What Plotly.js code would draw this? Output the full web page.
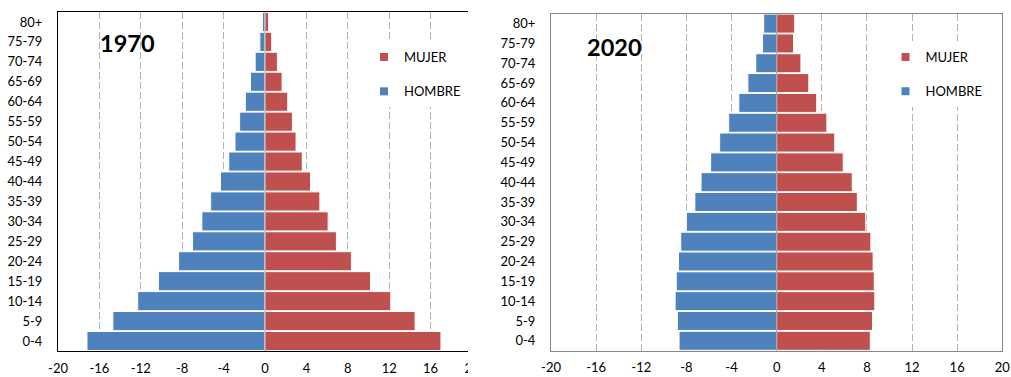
<!DOCTYPE html>
<html>
<head>
<meta charset="utf-8">
<script src="https://cdn.plot.ly/plotly-3.0.1.min.js"></script>
<style>
  html, body { margin: 0; padding: 0; background: #fff; }
  #chart { width: 1011px; height: 377px; }
</style>
</head>
<body>
<div id="chart"></div>
<script>
// Age groups, youngest at the bottom of each pyramid
const ageGroups = ['0-4', '5-9', '10-14', '15-19', '20-24', '25-29', '30-34', '35-39',
  '40-44', '45-49', '50-54', '55-59', '60-64', '65-69', '70-74', '75-79', '80+'];

// Share of total population (%) by age group and sex
const hombre1970 = [17.2, 14.7, 12.3, 10.3, 8.35, 7.0, 6.1, 5.25, 4.3, 3.5, 2.9, 2.45, 1.9, 1.4, 0.95, 0.5, 0.25];
const mujer1970  = [17.0, 14.5, 12.15, 10.2, 8.35, 6.9, 6.1, 5.3, 4.4, 3.6, 3.0, 2.65, 2.2, 1.65, 1.2, 0.65, 0.35];
const hombre2020 = [8.65, 8.8, 9.0, 8.9, 8.7, 8.5, 8.0, 7.25, 6.7, 5.85, 5.05, 4.25, 3.35, 2.55, 1.85, 1.25, 1.15];
const mujer2020  = [8.3, 8.5, 8.7, 8.65, 8.55, 8.35, 7.9, 7.15, 6.7, 5.9, 5.15, 4.45, 3.55, 2.85, 2.15, 1.5, 1.6];

// Horizontal axis ticks (men plotted to the left of zero)
const xTickVals = [-20, -16, -12, -8, -4, 0, 4, 8, 12, 16, 20];
const xTickText = ['-20', '-16', '-12', '-8', '-4', '0', '4', '8', '12', '16', '20'];

const seriesNames = { male: 'HOMBRE', female: 'MUJER' };
const colors = { male: '#4f81bd', female: '#c0504d' };
const panelTitles = ['1970', '2020'];

const W = 1011, H = 377;
const px = v => v / W;
const py = v => 1 - v / H;

function barTrace(values, sex, xa, ya, negate) {
  return {
    type: 'bar',
    orientation: 'h',
    y: ageGroups,
    x: values.map(v => negate ? -v : v),
    name: seriesNames[sex],
    xaxis: xa, yaxis: ya,
    showlegend: false,
    marker: { color: colors[sex], line: { color: '#ffffff', width: 1 } },
    hoverinfo: 'skip'
  };
}

function legendEntry(sex, xa, ya, legendId) {
  return {
    type: 'scatter', mode: 'markers',
    x: [null], y: [null],
    xaxis: xa, yaxis: ya,
    name: seriesNames[sex],
    legend: legendId,
    legendgroup: legendId + sex,
    marker: { symbol: 'square', size: 8, color: colors[sex] },
    hoverinfo: 'skip'
  };
}

const data = [
  barTrace(hombre1970, 'male', 'x', 'y', true),
  barTrace(mujer1970, 'female', 'x', 'y', false),
  barTrace(hombre2020, 'male', 'x2', 'y2', true),
  barTrace(mujer2020, 'female', 'x2', 'y2', false),
  legendEntry('female', 'x', 'y', 'legend'),
  legendEntry('male', 'x', 'y', 'legend'),
  legendEntry('female', 'x2', 'y2', 'legend2'),
  legendEntry('male', 'x2', 'y2', 'legend2')
];

const tickFont = { family: 'Lato, "Open Sans", sans-serif', size: 13, color: '#000000' };
const gridStyle = { showgrid: true, gridcolor: '#b3b3b3', gridwidth: 1, griddash: '7px,3px' };

function xAxis(domain, anchor, lineColor) {
  return Object.assign({
    domain: domain, anchor: anchor, range: [-20, 20],
    tickmode: 'array', tickvals: xTickVals, ticktext: xTickText,
    ticks: '', ticklabelstandoff: 5, tickfont: tickFont,
    zeroline: false, showline: true, mirror: true, linecolor: lineColor, linewidth: 1,
    fixedrange: true
  }, gridStyle);
}

function yAxis(domain, anchor, lineColor) {
  return {
    domain: domain, anchor: anchor, type: 'category',
    categoryorder: 'array', categoryarray: ageGroups,
    ticks: '', ticklabelstandoff: 12, tickfont: tickFont,
    showgrid: false, zeroline: false,
    showline: true, mirror: true, linecolor: lineColor, linewidth: 1,
    fixedrange: true
  };
}

function legendBox(xLeft) {
  return {
    x: px(xLeft), y: py(42), xanchor: 'left', yanchor: 'top',
    bgcolor: '#ffffff', borderwidth: 0,
    font: { family: 'Lato, "Open Sans", sans-serif', size: 13, color: '#000000' },
    traceorder: 'grouped', tracegroupgap: 14.5,
    itemclick: false, itemdoubleclick: false
  };
}

const layout = {
  width: W, height: H,
  margin: { l: 0, r: 0, t: 0, b: 0 },
  paper_bgcolor: '#ffffff', plot_bgcolor: '#ffffff',
  barmode: 'relative', bargap: 0.04,
  hovermode: false,
  xaxis: xAxis([px(58), px(472)], 'y', '#000000'),
  yaxis: yAxis([py(351), py(12)], 'x', '#000000'),
  xaxis2: xAxis([px(551), px(1002.3)], 'y2', '#868686'),
  yaxis2: yAxis([py(350.7), py(13.7)], 'x2', '#868686'),
  legend: legendBox(364),
  legend2: legendBox(885.5),
  shapes: [
    // vertical axis at zero for each pyramid
    { type: 'line', xref: 'x', yref: 'y domain', x0: 0, x1: 0, y0: 0, y1: 1,
      line: { color: '#9a9a9a', width: 1 }, layer: 'above' },
    { type: 'line', xref: 'x2', yref: 'y2 domain', x0: 0, x1: 0, y0: 0, y1: 1,
      line: { color: '#9a9a9a', width: 1 }, layer: 'above' },
    // the 1970 panel is trimmed on its right side
    { type: 'rect', xref: 'paper', yref: 'paper', x0: px(468), x1: px(497), y0: 0, y1: 1,
      fillcolor: '#ffffff', line: { width: 0 }, layer: 'above' }
  ],
  annotations: [
    { text: panelTitles[0], xref: 'paper', yref: 'paper', x: px(98), y: py(43),
      xanchor: 'left', yanchor: 'middle', showarrow: false,
      font: { family: 'Lato, sans-serif', size: 23.5, color: '#000000', weight: 'bold' } },
    { text: panelTitles[1], xref: 'paper', yref: 'paper', x: px(585), y: py(47),
      xanchor: 'left', yanchor: 'middle', showarrow: false,
      font: { family: 'Lato, sans-serif', size: 23.5, color: '#000000', weight: 'bold' } }
  ]
};

Plotly.newPlot('chart', data, layout, { displayModeBar: false, staticPlot: true });
</script>
</body>
</html>
